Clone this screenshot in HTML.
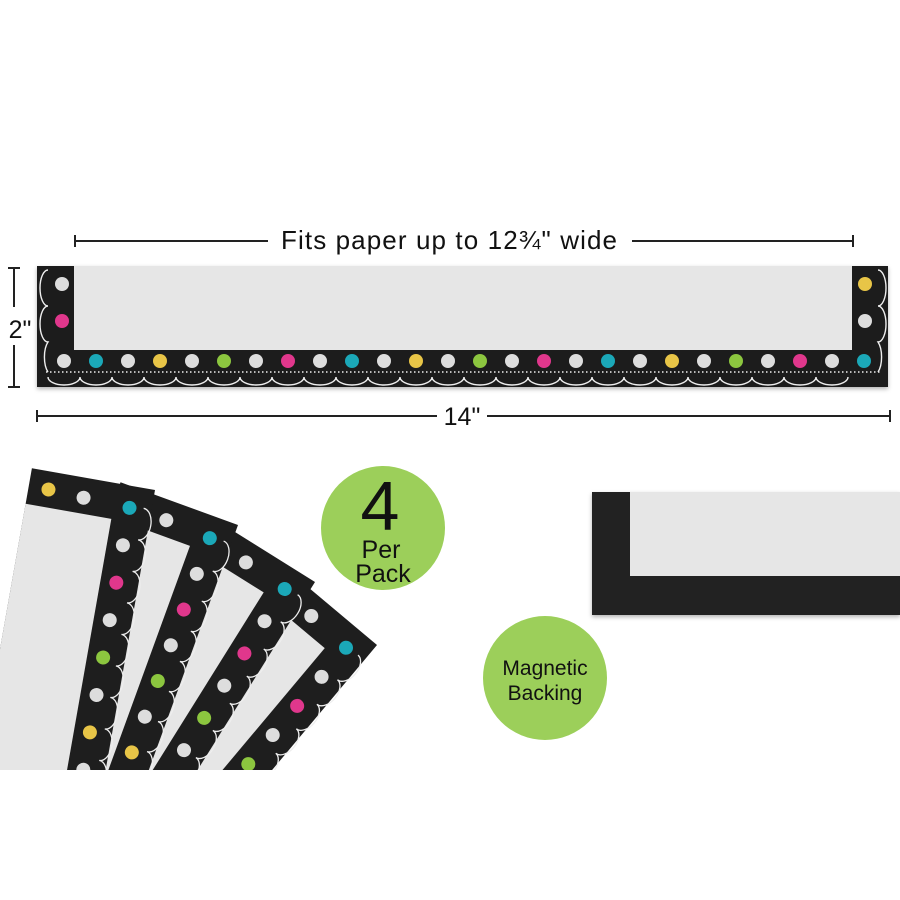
<!DOCTYPE html>
<html><head><meta charset="utf-8"><style>
html,body{margin:0;padding:0;background:#fff;width:900px;height:900px;overflow:hidden}
svg{display:block}
text{font-family:"Liberation Sans","DejaVu Sans",sans-serif;fill:#111}
</style></head><body>
<svg width="900" height="900" viewBox="0 0 900 900" xmlns="http://www.w3.org/2000/svg">
<defs>
<filter id="sh" x="-5%" y="-5%" width="110%" height="115%"><feDropShadow dx="0" dy="2" stdDeviation="2" flood-color="#000" flood-opacity="0.3"/></filter>
<g id="card">
<rect x="-125" y="0" width="125" height="460" fill="#1e1e1e"/>
<rect x="-125" y="36" width="87" height="430" fill="#e6e6e6"/>
<path d="M-8 20 a10 16 0 0 1 0 32 a10 16 0 0 1 0 32 a10 16 0 0 1 0 32 a10 16 0 0 1 0 32 a10 16 0 0 1 0 32 a10 16 0 0 1 0 32 a10 16 0 0 1 0 32 a10 16 0 0 1 0 32 a10 16 0 0 1 0 32" fill="none" stroke="#eee" stroke-width="1.3"/>
<circle cx="-105" cy="18" r="7" fill="#e8c547"/>
<circle cx="-69" cy="20" r="7" fill="#ddd"/>
<circle cx="-22" cy="22" r="7" fill="#1ba8b8"/>
<circle cx="-22" cy="60" r="7" fill="#ddd"/>
<circle cx="-22" cy="98" r="7" fill="#e0378c"/>
<circle cx="-22" cy="136" r="7" fill="#ddd"/>
<circle cx="-22" cy="174" r="7" fill="#8cc63f"/>
<circle cx="-22" cy="212" r="7" fill="#ddd"/>
<circle cx="-22" cy="250" r="7" fill="#e8c547"/>
<circle cx="-22" cy="288" r="7" fill="#ddd"/>
<circle cx="-22" cy="326" r="7" fill="#1ba8b8"/>
</g>
<clipPath id="fanclip"><rect x="0" y="440" width="460" height="330"/></clipPath>
</defs>

<g stroke="#222" stroke-width="2" fill="none">
<line x1="75" y1="241" x2="268" y2="241"/><line x1="75" y1="235" x2="75" y2="247"/>
<line x1="632" y1="241" x2="853" y2="241"/><line x1="853" y1="235" x2="853" y2="247"/>
<line x1="14" y1="268" x2="14" y2="307"/><line x1="14" y1="345" x2="14" y2="387"/>
<line x1="8" y1="268" x2="20" y2="268"/><line x1="8" y1="387" x2="20" y2="387"/>
<line x1="37" y1="416" x2="437" y2="416"/><line x1="487" y1="416" x2="890" y2="416"/>
<line x1="37" y1="410" x2="37" y2="422"/><line x1="890" y1="410" x2="890" y2="422"/>
</g>
<text x="449" y="249" font-size="26" text-anchor="middle" textLength="336">Fits paper up to 12¾" wide</text>
<text x="20" y="338" font-size="25" text-anchor="middle">2"</text>
<text x="462" y="425" font-size="25" text-anchor="middle">14"</text>

<g filter="url(#sh)">
<rect x="37" y="266" width="851" height="121" fill="#1e1e1e"/>
</g>
<rect x="74" y="266" width="778" height="84" fill="#e6e6e6"/>
<g fill="none" stroke="#eee" stroke-width="1.4">
<path d="M46 372 H880" stroke-dasharray="1.5 2.5"/>
<path d="M48 377 a16 8 0 0 0 32 0 a16 8 0 0 0 32 0 a16 8 0 0 0 32 0 a16 8 0 0 0 32 0 a16 8 0 0 0 32 0 a16 8 0 0 0 32 0 a16 8 0 0 0 32 0 a16 8 0 0 0 32 0 a16 8 0 0 0 32 0 a16 8 0 0 0 32 0 a16 8 0 0 0 32 0 a16 8 0 0 0 32 0 a16 8 0 0 0 32 0 a16 8 0 0 0 32 0 a16 8 0 0 0 32 0 a16 8 0 0 0 32 0 a16 8 0 0 0 32 0 a16 8 0 0 0 32 0 a16 8 0 0 0 32 0 a16 8 0 0 0 32 0 a16 8 0 0 0 32 0 a16 8 0 0 0 32 0 a16 8 0 0 0 32 0 a16 8 0 0 0 32 0 a16 8 0 0 0 32 0"/>
<path d="M48 270 a8 18 0 0 0 0 36 a8 18 0 0 0 0 36 a8 18 0 0 0 0 30"/>
<path d="M878 270 a8 18 0 0 1 0 36 a8 18 0 0 1 0 36 a8 18 0 0 1 0 30"/>
</g>
<g>
<circle cx="62" cy="284" r="7" fill="#ddd"/><circle cx="62" cy="321" r="7" fill="#e0378c"/>
<circle cx="865" cy="284" r="7" fill="#e8c547"/><circle cx="865" cy="321" r="7" fill="#ddd"/>
<circle cx="64" cy="361" r="7" fill="#ddd"/><circle cx="96" cy="361" r="7" fill="#1ba8b8"/>
<circle cx="128" cy="361" r="7" fill="#ddd"/><circle cx="160" cy="361" r="7" fill="#e8c547"/>
<circle cx="192" cy="361" r="7" fill="#ddd"/><circle cx="224" cy="361" r="7" fill="#8cc63f"/>
<circle cx="256" cy="361" r="7" fill="#ddd"/><circle cx="288" cy="361" r="7" fill="#e0378c"/>
<circle cx="320" cy="361" r="7" fill="#ddd"/><circle cx="352" cy="361" r="7" fill="#1ba8b8"/>
<circle cx="384" cy="361" r="7" fill="#ddd"/><circle cx="416" cy="361" r="7" fill="#e8c547"/>
<circle cx="448" cy="361" r="7" fill="#ddd"/><circle cx="480" cy="361" r="7" fill="#8cc63f"/>
<circle cx="512" cy="361" r="7" fill="#ddd"/><circle cx="544" cy="361" r="7" fill="#e0378c"/>
<circle cx="576" cy="361" r="7" fill="#ddd"/><circle cx="608" cy="361" r="7" fill="#1ba8b8"/>
<circle cx="640" cy="361" r="7" fill="#ddd"/><circle cx="672" cy="361" r="7" fill="#e8c547"/>
<circle cx="704" cy="361" r="7" fill="#ddd"/><circle cx="736" cy="361" r="7" fill="#8cc63f"/>
<circle cx="768" cy="361" r="7" fill="#ddd"/><circle cx="800" cy="361" r="7" fill="#e0378c"/>
<circle cx="832" cy="361" r="7" fill="#ddd"/><circle cx="864" cy="361" r="7" fill="#1ba8b8"/>
</g>

<g clip-path="url(#fanclip)">
<use href="#card" transform="translate(377,645) rotate(40)"/>
<use href="#card" transform="translate(315,582) rotate(32)"/>
<use href="#card" transform="translate(238,525) rotate(20)"/>
<use href="#card" transform="translate(155,490) rotate(10)"/>
</g>

<rect x="592" y="492" width="308" height="123" fill="#242424" filter="url(#sh)"/>
<rect x="630" y="492" width="270" height="84" fill="#e6e6e6"/>

<circle cx="383" cy="528" r="62" fill="#9ccf5a"/>
<text x="380" y="530" font-size="70" text-anchor="middle">4</text>
<text x="381" y="558" font-size="25" text-anchor="middle">Per</text>
<text x="383" y="582" font-size="25" text-anchor="middle">Pack</text>
<circle cx="545" cy="678" r="62" fill="#9ccf5a"/>
<text x="545" y="675" font-size="21" text-anchor="middle">Magnetic</text>
<text x="545" y="700" font-size="21" text-anchor="middle">Backing</text>
</svg>
</body></html>
